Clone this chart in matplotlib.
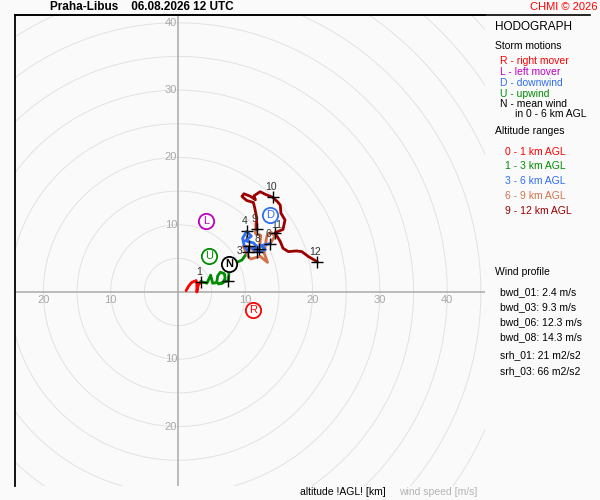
import matplotlib
matplotlib.use("Agg")
import matplotlib.pyplot as plt
from matplotlib.lines import Line2D
import numpy as np

plt.rcParams['font.family'] = ['Liberation Sans', 'DejaVu Sans']

# ---------------- data ----------------
title_station = "Praha-Libus"
title_time = "06.08.2026 12 UTC"

# hodograph layers (u, v in m/s)
u_0_1 = [1.2, 1.6, 2.0, 2.7, 2.8, 2.8, 3.0, 3.4]
v_0_1 = [0.2, 0.9, 1.4, 1.7, 1.3, 0.0, 1.0, 1.55]

u_1_3 = [3.4, 4.3, 4.85, 5.15, 5.75, 5.9, 6.3, 6.9, 7.0, 6.6, 6.0, 7.5, 7.6, 8.5, 9.5, 10.4]
v_1_3 = [1.55, 1.3, 2.5, 1.3, 1.4, 2.4, 2.95, 2.7, 2.0, 1.3, 1.2, 1.7, 3.5, 4.3, 4.75, 6.0]

u_3_6 = [10.4, 9.8, 9.6, 10.2, 10.9, 10.0, 11.2, 11.9, 11.0, 11.8, 13.0, 12.3, 13.7]
v_3_6 = [6.0, 7.0, 8.0, 9.0, 8.3, 7.6, 7.3, 6.6, 6.5, 6.0, 6.3, 6.9, 7.2]

u_6_9 = [13.7, 14.4, 13.8, 13.2, 12.8, 13.3, 12.2, 10.8, 10.3, 9.7, 10.5, 11.4, 12.1, 12.3, 11.5, 11.6, 11.7]
v_6_9 = [7.2, 8.3, 8.9, 8.3, 5.8, 4.4, 5.3, 4.9, 5.5, 6.8, 6.8, 6.0, 6.4, 8.4, 8.7, 10.3, 9.3]

u_9_12 = [11.7, 11.7, 11.4, 11.2, 10.2, 9.5, 9.8, 10.8, 11.5, 11.3, 12.2, 13.0, 14.07, 14.8,
          15.2, 15.3, 15.9, 15.6, 14.4, 15.2, 15.6, 16.4, 17.6, 18.4, 19.4, 20.7]
v_9_12 = [9.3, 11.0, 12.5, 13.3, 13.6, 14.2, 14.6, 14.2, 13.7, 14.3, 14.9, 14.5, 14.07, 13.4,
          12.9, 11.7, 10.7, 9.3, 8.8, 7.5, 6.5, 6.0, 6.1, 6.0, 5.25, 4.5]

# km markers
km_u = [3.4, 7.5, 10.4, 10.2, 11.8, 13.7, 10.5, 12.1, 11.7, 14.07, 14.4, 20.7]
km_v = [1.55, 1.7, 6.0, 9.0, 6.0, 7.2, 6.8, 6.4, 9.3, 14.07, 8.8, 4.5]
km_labels = ['1', '', '3', '4', '', '6', '7', '8', '9', '10', '11', '12']

# storm motions
storm_letters = ['R', 'L', 'D', 'U', 'N']
storm_u = [11.1, 4.2, 13.7, 4.65, 7.6]
storm_v = [-2.7, 10.5, 11.5, 5.4, 4.2]

ring_speeds = list(range(5, 75, 5))
tick_pos = [-20, -10, 10, 20, 30, 40]
tick_pos_y = [-20, -10, 10, 20, 30, 40]

storm_legend = ['R - right mover', 'L - left mover', 'D - downwind', 'U - upwind', 'N - mean wind']
layer_legend = ['0 - 1 km AGL', '1 - 3 km AGL', '3 - 6 km AGL', '6 - 9 km AGL', '9 - 12 km AGL']
profile_names = ['bwd_01', 'bwd_03', 'bwd_06', 'bwd_08']
profile_vals = [2.4, 9.3, 12.3, 14.3]
srh_names = ['srh_01', 'srh_03']
srh_vals = [21, 66]

# ---------------- style ----------------
BG = '#fafafa'
C_RED = '#ff0000'
C_GREEN = '#008c00'
C_BLUE = '#2f6fef'
C_ORANGE = '#d2714a'
C_DRED = '#9a0000'
C_MAG = '#c000c0'
layer_colors = [C_RED, C_GREEN, C_BLUE, C_ORANGE, C_DRED]
layer_z = [4.0, 4.1, 4.4, 4.2, 4.3]
storm_colors = [C_RED, C_MAG, C_BLUE, C_GREEN, 'black']
label_offsets = {'3': (-8, 1), '11': (2, 8)}

W, H = 600, 500
fig = plt.figure(figsize=(6, 5), dpi=100, facecolor=BG)

def fx(px):
    return px / W

def fy(py):
    return 1 - py / H

# axes area in pixels: x 15..485, y 15..486
ax = fig.add_axes([fx(15), fy(486), (485 - 15) / W, (486 - 15) / H])
ax.set_facecolor(BG)
scale = 6.73
ox, oy = 178, 292
ax.set_xlim((15 - ox) / scale, (485 - ox) / scale)
ax.set_ylim(-(486 - oy) / scale, (oy - 15) / scale)
ax.set_aspect('auto')
ax.set_xticks([])
ax.set_yticks([])
for s in ['bottom', 'right']:
    ax.spines[s].set_visible(False)
ax.spines['left'].set_color('black')
ax.spines['left'].set_linewidth(1.3)
ax.spines['top'].set_color('black')
ax.spines['top'].set_linewidth(1.2)

# rings
th = np.linspace(0, 2 * np.pi, 720)
for r in ring_speeds:
    ax.plot(r * np.cos(th), r * np.sin(th), color='#e2e2e2', lw=0.7, zorder=1)

# axes lines
ax.axhline(0, color='#a8a8a8', lw=1.1, zorder=2)
ax.axvline(0, color='#a8a8a8', lw=1.1, zorder=2)

# tick labels
for t in tick_pos:
    ax.annotate(str(abs(t)), (t, 0), xytext=(0, -8), textcoords='offset pixels',
                ha='center', va='center', fontsize=8, color='#a8a8a8', zorder=3)
for t in tick_pos_y:
    ax.annotate(str(abs(t)), (0, t), xytext=(-1, 0), textcoords='offset pixels',
                ha='right', va='center', fontsize=8, color='#a8a8a8', zorder=3)

# hodograph
layers = [(u_0_1, v_0_1), (u_1_3, v_1_3), (u_3_6, v_3_6), (u_6_9, v_6_9), (u_9_12, v_9_12)]
for (uu, vv), c, z in zip(layers, layer_colors, layer_z):
    ax.plot(uu, vv, color=c, lw=2.0, solid_joinstyle='round', solid_capstyle='round', zorder=z)

# km markers
ax.plot(km_u, km_v, linestyle='none', marker='+', ms=8.5, mew=1.0, color='black', zorder=5)
for u, v, lab in zip(km_u, km_v, km_labels):
    if not lab:
        continue
    off = label_offsets.get(lab, (-2, 10))
    ax.annotate(lab, (u, v), xytext=off, textcoords='offset pixels',
                ha='center', va='center', fontsize=7.5, color='#333333', zorder=6)

# storm motion markers
for u, v, l, c in zip(storm_u, storm_v, storm_letters, storm_colors):
    ax.plot([u], [v], marker='o', ms=11, mfc='white', mec=c, mew=1.3, zorder=7)
    ax.text(u, v, l, ha='center', va='center', fontsize=8,
            fontweight='bold' if l == 'N' else 'normal', color=c, zorder=8)

# top frame line extension
fig.add_artist(Line2D([fx(15), fx(590)], [fy(15), fy(15)], color='black', lw=1.2))

# title
fig.text(fx(50), fy(7), title_station + '    ' + title_time, fontsize=8.5, fontweight='bold',
         ha='left', va='center', color='black')
fig.text(fx(598), fy(7), 'CHMI © 2026', fontsize=8, ha='right', va='center', color=C_RED)

# legend panel
fs = 7.5
fig.text(fx(495), fy(27), 'HODOGRAPH', fontsize=8.5, ha='left', va='center')
fig.text(fx(495), fy(46), 'Storm motions', fontsize=fs, ha='left', va='center')
sy = [61, 72, 83, 94, 104]
for t, c, y in zip(storm_legend, storm_colors, sy):
    fig.text(fx(500), fy(y), t, fontsize=fs, ha='left', va='center', color=c)
fig.text(fx(515), fy(114), 'in 0 - 6 km AGL', fontsize=fs, ha='left', va='center')
fig.text(fx(495), fy(131), 'Altitude ranges', fontsize=fs, ha='left', va='center')
ly = [152, 166, 181, 196, 211]
for t, c, y in zip(layer_legend, layer_colors, ly):
    fig.text(fx(505), fy(y), t, fontsize=fs, ha='left', va='center', color=c)

fig.text(fx(495), fy(272), 'Wind profile', fontsize=fs, ha='left', va='center')
py = [292, 307, 322, 337]
for n, v, y in zip(profile_names, profile_vals, py):
    fig.text(fx(500), fy(y), f'{n}: {v} m/s', fontsize=fs, ha='left', va='center')
ry = [355, 371]
for n, v, y in zip(srh_names, srh_vals, ry):
    fig.text(fx(500), fy(y), f'{n}: {v} m2/s2', fontsize=fs, ha='left', va='center')

# bottom labels
fig.text(fx(300), fy(492), 'altitude !AGL! [km]', fontsize=fs, ha='left', va='center', color='black')
fig.text(fx(399), fy(492), 'wind speed [m/s]', fontsize=fs, ha='left', va='center', color='#b4b4b4')

fig.savefig('out.png', dpi=100, facecolor=BG)
